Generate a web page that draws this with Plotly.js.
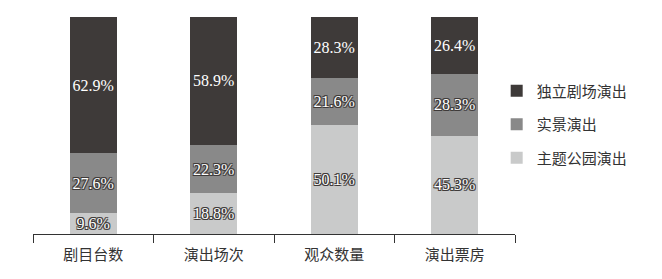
<!DOCTYPE html>
<html><head><meta charset="utf-8">
<script src="https://cdn.plot.ly/plotly-3.0.1.min.js"></script>
<style>html,body{margin:0;padding:0;background:#fff}</style>
</head><body><div id="chart" style="width:662px;height:279px"></div>
<script>
const categories = ['剧目台数', '演出场次', '观众数量', '演出票房'];
const themePark = [9.6, 18.8, 50.1, 45.3];
const realScene = [27.6, 22.3, 21.6, 28.3];
const theatre = [62.9, 58.9, 28.3, 26.4];
const seriesNames = ['主题公园演出', '实景演出', '独立剧场演出'];
const legendRanks = [3, 2, 1];
const colors = ['#c9caca', '#898989', '#3e3a39'];

const outline = '-1px -1px 0 #3e3a39, 1px -1px 0 #3e3a39, -1px 1px 0 #3e3a39, 1px 1px 0 #3e3a39, 0 1px 0 #3e3a39, 0 -1px 0 #3e3a39';
const serif = 'Liberation Serif, Times New Roman, serif';

const data = [themePark, realScene, theatre].map((vals, i) => ({
  type: 'bar',
  x: categories,
  y: vals,
  name: seriesNames[i],
  legendgroup: 'g' + i,
  legendrank: legendRanks[i],
  marker: {color: colors[i], line: {width: 0}},
  width: 0.39,
  text: vals.map(v => v.toFixed(1) + '%'),
  textposition: 'inside',
  insidetextanchor: 'middle',
  constraintext: 'none',
  textangle: 0,
  textfont: {family: serif, size: 16, color: '#ffffff', shadow: outline},
  insidetextfont: {family: serif, size: 16, color: '#ffffff', shadow: outline},
  hoverinfo: 'none'
}));

const layout = {
  width: 662, height: 279,
  margin: {l: 33, r: 147, t: 17, b: 45},
  barmode: 'stack',
  paper_bgcolor: '#fff', plot_bgcolor: '#fff',
  font: {family: serif, color: '#333'},
  xaxis: {
    tickson: 'boundaries', ticks: 'outside', ticklen: 8, tickwidth: 1, tickcolor: '#333',
    showline: true, linecolor: '#333', linewidth: 1,
    ticklabelstandoff: 7,
    tickfont: {family: 'Noto Sans CJK SC, sans-serif', size: 15, color: '#333'},
    showgrid: false, zeroline: false
  },
  yaxis: {range: [0, 100], visible: false, showgrid: false, zeroline: false},
  legend: {
    x: 0.962, y: 0.735, xanchor: 'left', yanchor: 'top',
    font: {family: 'Noto Sans CJK SC, sans-serif', size: 15, color: '#333'},
    traceorder: 'grouped',
    tracegroupgap: 11, itemwidth: 30
  },
  showlegend: true
};

Plotly.newPlot('chart', data, layout, {displayModeBar: false, staticPlot: true});
</script></body></html>
